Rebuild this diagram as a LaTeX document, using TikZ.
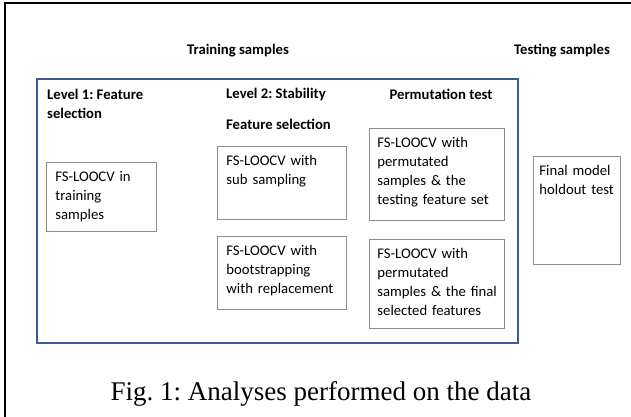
\documentclass[tikz,border=0pt]{standalone}
\usepackage{fontspec}
\setmainfont{Carlito}
\newfontfamily\capfont{Liberation Serif}
\usetikzlibrary{positioning}
\definecolor{frameblue}{HTML}{3A5A98}
\definecolor{cellgray}{HTML}{8C8C8C}
\frenchspacing

\begin{document}
\begin{tikzpicture}[x=1pt, y=-1pt,
            cell/.style={draw=cellgray, line width=0.9pt, anchor=north west, align=left,
                font=\fontsize{14.7}{19}\selectfont, inner xsep=9pt, inner ysep=5pt, text height=14pt},
            head/.style={anchor=west, inner sep=0pt, align=left, font=\fontsize{14.7}{19}\selectfont\bfseries},
            trainframe/.style={draw=frameblue, line width=2.2pt, anchor=north west, inner sep=0pt}]

        \useasboundingbox (0,0) rectangle (631,417);
        \draw[line width=1.2pt] (5,417) -- (5,3) -- (631,3);

        % training part
        \node[trainframe, minimum width=481pt, minimum height=264pt] (trainbox) at (36,78) {};

        \node[head, anchor=center] (train) at (238,51) {Training samples};
        \node[head, anchor=center] (test) at (562,51) {Testing samples};
        \node[head] (lvl1) at (47,103.5) {Level 1: Feature\\selection};
        \node[head] (lvl2) at (226,94) {Level 2: Stability};
        \node[head, below=30pt of lvl2.west, anchor=west] (fsel) {Feature selection};
        \node[head, anchor=center] (perm) at (441,94) {Permutation test};

        \node[cell, text width=92pt, text depth=45pt] (insample) at (46,162) {FS-LOOCV in\\training\\samples};
        \node[cell, text width=111pt, text depth=49pt] (subsamp) at (217,146) {FS-LOOCV with\\sub sampling};
        \node[cell, text width=111pt, text depth=49pt, below=16pt of subsamp.south west, anchor=north west] (bootstrap) {FS-LOOCV with\\bootstrapping\\with replacement};
        \node[cell, text width=119pt, inner xsep=8pt, text depth=68pt] (permtest) at (369,128) {FS-LOOCV with\\permutated\\samples \& the\\testing feature set};
        \node[cell, text width=119pt, inner xsep=8pt, text depth=65pt, below=18pt of permtest.south west, anchor=north west] (permfinal) {FS-LOOCV with\\permutated\\\mbox{samples \& the final}\\selected features};

        % testing part
        \node[cell, text width=75pt, inner xsep=6pt, text depth=84pt] (holdout) at (533,156) {Final model\\holdout test};

        \node[font=\capfont\fontsize{27}{32}\selectfont, anchor=base] (caption) at (321,400) {Fig. 1: Analyses performed on the data};
    \end{tikzpicture}
\end{document}
